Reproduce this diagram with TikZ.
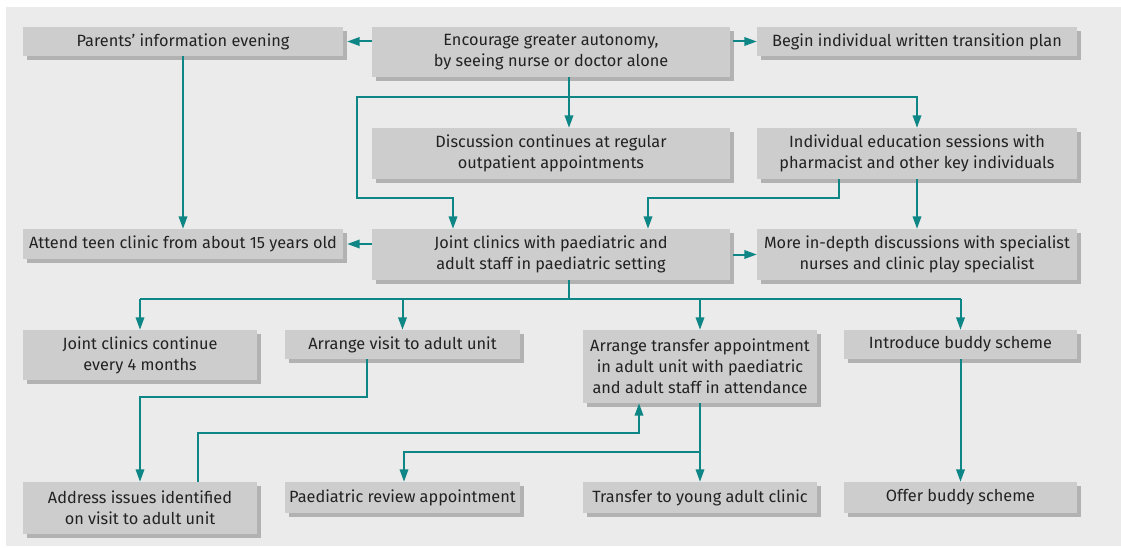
\documentclass[tikz,border=0pt]{standalone}
\usepackage{fontspec}
\setmainfont{Fira Sans}
\usetikzlibrary{arrows.meta,shadows}
\definecolor{panel}{HTML}{EBEBEB}
\definecolor{boxfill}{HTML}{CDCDCD}
\definecolor{shadowc}{HTML}{B2B2B2}
\definecolor{teal}{HTML}{0F8686}
\definecolor{txt}{HTML}{222222}
\tikzset{
  box/.style={fill=boxfill, draw=none, text=txt, align=center, inner sep=0pt,
    font=\fontsize{16.3}{21}\selectfont,
    drop shadow={shadow xshift=4pt, shadow yshift=-4pt, fill=shadowc, opacity=1}},
  arr/.style={draw=teal, line width=2pt, -{Triangle[length=12.5pt,width=8.5pt]}},
  ln/.style={draw=teal, line width=2pt},
}
\begin{document}
\begin{tikzpicture}[x=1pt,y=-1pt]
\useasboundingbox (0,0) rectangle (1121,548);
\fill[white] (0,0) rectangle (1121,548);
\fill[panel] (6,7) rectangle (1121,546);
% row 1
\node[box, minimum width=320pt, minimum height=29pt] (par) at (183,41.5) {Parents’ information evening};
\node[box, minimum width=358pt, minimum height=50pt] (enc) at (551,52) {Encourage greater autonomy,\\by seeing nurse or doctor alone};
\node[box, minimum width=320pt, minimum height=29pt] (beg) at (917,41.5) {Begin individual written transition plan};
% row 2
\node[box, minimum width=358pt, minimum height=51pt] (disc) at (551,153.5) {Discussion continues at regular\\outpatient appointments};
\node[box, minimum width=320pt, minimum height=51pt] (ind) at (917,153.5) {Individual education sessions with\\pharmacist and other key individuals};
% row 3
\node[box, minimum width=320pt, minimum height=30pt] (att) at (183,244) {Attend teen clinic from about 15 years old};
\node[box, minimum width=358pt, minimum height=51pt] (joint) at (551,254.5) {Joint clinics with paediatric and\\adult staff in paediatric setting};
\node[box, minimum width=320pt, minimum height=51pt] (more) at (917,254.5) {More in-depth discussions with specialist\\nurses and clinic play specialist};
% row 4
\node[box, minimum width=234pt, minimum height=50pt] (jc) at (140,355) {Joint clinics continue\\every 4 months};
\node[box, minimum width=235pt, minimum height=29pt] (av) at (402.5,344.5) {Arrange visit to adult unit};
\node[box, minimum width=234pt, minimum height=73pt] (at) at (700,366.5) {Arrange transfer appointment\\in adult unit with paediatric\\and adult staff in attendance};
\node[box, minimum width=233pt, minimum height=29pt] (ib) at (960.5,344.5) {Introduce buddy scheme};
% row 5
\node[box, minimum width=234pt, minimum height=52pt] (ad) at (140,508) {Address issues identified\\on visit to adult unit};
\node[box, minimum width=235pt, minimum height=31pt] (pr) at (402.5,497.5) {Paediatric review appointment};
\node[box, minimum width=234pt, minimum height=31pt] (ty) at (700,497.5) {Transfer to young adult clinic};
\node[box, minimum width=233pt, minimum height=31pt] (ob) at (960.5,497.5) {Offer buddy scheme};
% junction points
\coordinate (j1) at (569,97);
\coordinate (j1l) at (357,97);
\coordinate (j1b) at (357,198);
\coordinate (j1c) at (453,198);
\coordinate (j3a) at (839,198);
\coordinate (j3b) at (648,198);
\coordinate (j2) at (569,299);
\coordinate (v1) at (367,397);
\coordinate (a1) at (198,433);
\coordinate (a2) at (639,433);
\coordinate (t1) at (700,452);
\coordinate (t2) at (404,452);
% connectors
\draw[arr] (par -| enc.west) -- ([xshift=4pt]par.east);
\draw[arr] (beg -| enc.east) ++(3,0) -- (beg.west);
\draw[arr] (par.south) -- (att.north);
\draw[ln] (j1 |- enc.south) -- (j1);
\draw[arr] (j1) -- (j1 |- disc.north);
\draw[arr] (j1) -| (ind.north);
\draw[arr] (j1) -- (j1l) -- (j1b) -- (j1c) -- (j1c |- joint.north);
\draw[arr] (j3a |- ind.south) -- (j3a) -- (j3b) -- (j3b |- joint.north);
\draw[arr] (ind.south) -- (more.north);
\draw[arr] (att -| joint.west) -- ([xshift=4pt]att.east);
\draw[arr] ([xshift=3pt]joint.east) -- (more.west);
\draw[ln] (j2 |- joint.south) -- (j2);
\draw[ln] (jc |- j2) -- (ib |- j2);
\draw[arr] (jc |- j2) -- (jc.north);
\draw[arr] (av |- j2) -- (av.north);
\draw[arr] (at |- j2) -- (at.north);
\draw[arr] (ib |- j2) -- (ib.north);
\draw[arr] (v1 |- av.south) -- (v1) -| (ad.north);
\draw[arr] (a1 |- ad.north) -- (a1) -- (a2) -- (a2 |- at.south);
\draw[arr] (at.south) -- (ty.north);
\draw[arr] (t1) -- (t2) -- (t2 |- pr.north);
\draw[arr] (ib.south) -- (ob.north);
\end{tikzpicture}
\end{document}
